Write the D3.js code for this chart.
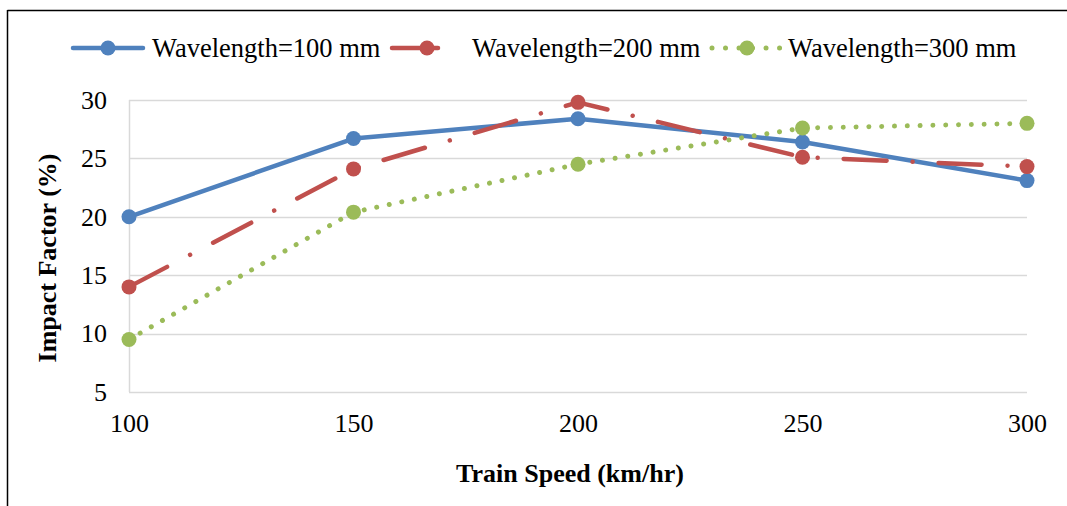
<!DOCTYPE html>
<html>
<head>
<meta charset="utf-8">
<script src="https://cdn.jsdelivr.net/npm/d3@7"></script>
<style>
  html, body { margin: 0; padding: 0; background: #fff; }
  svg { display: block; font-family: "Liberation Serif", "Times New Roman", serif; }
</style>
</head>
<body>
<svg id="chart" width="1067" height="506"></svg>
<script>
const speeds = [100, 150, 200, 250, 300];
const yTicks = [5, 10, 15, 20, 25, 30];
const seriesNames = ["Wavelength=100 mm", "Wavelength=200 mm", "Wavelength=300 mm"];
const wave100 = [20.0, 26.7, 28.4, 26.4, 23.1];
const wave200 = [14.0, 24.1, 29.8, 25.1, 24.3];
const wave300 = [9.5, 20.4, 24.5, 27.6, 28.0];
const colors = ["#4F81BD", "#C0504D", "#9BBB59"];
const xTitle = "Train Speed (km/hr)";
const yTitle = "Impact Factor (%)";

(function () {
const series = [
  { name: seriesNames[0], values: wave100, color: colors[0], dash: null, width: 4.5 },
  { name: seriesNames[1], values: wave200, color: colors[1], dash: "43 26 0.01 26", width: 4.5 },
  { name: seriesNames[2], values: wave300, color: colors[2], dash: "0.01 12.8", width: 5 }
];

const svg = d3.select("#chart");
const pL = 129, pR = 1027, pT = 100, pB = 392;
const x = d3.scaleLinear().domain([100, 300]).range([pL, pR]);
const y = d3.scaleLinear().domain([5, 30]).range([pB, pT]);

// frame
svg.append("line").attr("x1", 7.5).attr("x2", 1067).attr("y1", 10.5).attr("y2", 10.5)
  .attr("stroke", "#000").attr("stroke-width", 1.5);
svg.append("line").attr("x1", 7.5).attr("x2", 7.5).attr("y1", 10).attr("y2", 506)
  .attr("stroke", "#000").attr("stroke-width", 1.5);

// gridlines
svg.append("g").selectAll("line").data(yTicks).join("line")
  .attr("x1", pL).attr("x2", pR)
  .attr("y1", d => Math.round(y(d)) + 0.5).attr("y2", d => Math.round(y(d)) + 0.5)
  .attr("stroke", "#D9D9D9").attr("stroke-width", 1.5);
svg.append("line").attr("x1", pL + 0.5).attr("x2", pL + 0.5).attr("y1", pT).attr("y2", pB)
  .attr("stroke", "#D9D9D9").attr("stroke-width", 1.5);

// y axis labels
const yAxis = d3.axisLeft(y).tickValues(yTicks).tickSize(0).tickPadding(22);
const gy = svg.append("g").attr("transform", `translate(${pL},0)`).call(yAxis);
gy.attr("font-family", null);
gy.select(".domain").remove();
gy.selectAll("text").attr("font-size", 26).attr("fill", "#000")
  .attr("font-family", "Liberation Serif");

// x axis labels
const xAxis = d3.axisBottom(x).tickValues(speeds).tickSize(0).tickPadding(22).tickFormat(d3.format("d"));
const gx = svg.append("g").attr("transform", `translate(0,${pB})`).call(xAxis);
gx.attr("font-family", null);
gx.select(".domain").remove();
gx.selectAll("text").attr("font-size", 26).attr("fill", "#000")
  .attr("font-family", "Liberation Serif");

// titles
svg.append("text").attr("x", 570).attr("y", 482).attr("text-anchor", "middle")
  .attr("font-size", 26).attr("font-weight", "bold").text(xTitle);
svg.append("text").attr("transform", "translate(56,258) rotate(-90)").attr("text-anchor", "middle")
  .attr("font-size", 26).attr("font-weight", "bold").text(yTitle);

// lines
const line = d3.line().x((d, i) => x(speeds[i])).y(d => y(d));
series.forEach(s => {
  const g = svg.append("g");
  g.append("path").datum(s.values).attr("d", line)
    .attr("fill", "none").attr("stroke", s.color).attr("stroke-width", s.width)
    .attr("stroke-linecap", "round").attr("stroke-linejoin", "round")
    .attr("stroke-dasharray", s.dash);
  g.selectAll("circle").data(s.values).join("circle")
    .attr("cx", (d, i) => x(speeds[i])).attr("cy", d => y(d)).attr("r", 7.5)
    .attr("fill", s.color);
});

// legend
const legendItems = [
  { lx: 73, tx: 152 },
  { lx: 392, tx: 472 },
  { lx: 712, tx: 788 }
];
const ly = 48;
series.forEach((s, i) => {
  const li = legendItems[i];
  const g = svg.append("g");
  g.append("line").attr("x1", li.lx).attr("x2", li.lx + 70).attr("y1", ly).attr("y2", ly)
    .attr("stroke", s.color).attr("stroke-width", s.width)
    .attr("stroke-linecap", "round").attr("stroke-dasharray", i === 2 ? "0.01 13.5" : (i === 1 ? "46 100" : null));
  g.append("circle").attr("cx", li.lx + 35).attr("cy", ly).attr("r", 7.5).attr("fill", s.color);
  g.append("text").attr("x", li.tx).attr("y", ly + 9).attr("font-size", 26.5).attr("fill", "#000")
    .text(s.name);
});
})();
</script>
</body>
</html>
